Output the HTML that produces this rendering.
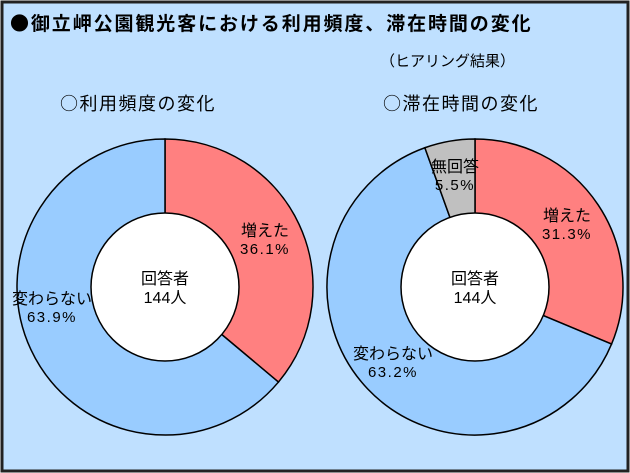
<!DOCTYPE html>
<html><head><meta charset="utf-8"><style>
body{margin:0;width:630px;height:473px;overflow:hidden;background:#fff}
svg{display:block}
text{font-family:"Liberation Sans","Noto Sans CJK JP",sans-serif}
.cjk{font-family:"Noto Sans CJK JP",sans-serif}
</style></head><body>
<svg width="630" height="473" viewBox="0 0 630 473">
<rect x="2" y="2" width="626" height="469" fill="#bfe0ff" stroke="#222" stroke-width="3"/>
<text x="10" y="30" font-size="19" font-weight="bold" fill="#000" letter-spacing="1.9" class="cjk">●御立岬公園観光客における利用頻度、滞在時間の変化</text>
<text x="380" y="66" font-size="15" fill="#000" class="cjk">（ヒアリング結果）</text>
<text x="60" y="110" font-size="18" fill="#000" letter-spacing="1.5" class="cjk">○利用頻度の変化</text>
<text x="383" y="110" font-size="18" fill="#000" letter-spacing="1.5" class="cjk">○滞在時間の変化</text>
<g id="charts"></g>
</svg>
<script>
const leftCategories=["増えた","変わらない"];
const leftValues=[36.1,63.9];
const rightCategories=["増えた","変わらない","無回答"];
const rightValues=[31.3,63.2,5.5];
const colorsMap={"増えた":"#ff8080","変わらない":"#99ccff","無回答":"#c0c0c0"};
const NS="http://www.w3.org/2000/svg";
const g=document.getElementById('charts');
function mk(t,a){const e=document.createElementNS(NS,t);for(const k in a)e.setAttribute(k,a[k]);return e;}
function donut(cx,cy,R,r,cats,vals,key,labelPos){
  const tot=vals.reduce((a,b)=>a+b,0);
  let a0=0;
  cats.forEach((c,i)=>{
    const a1=a0+vals[i]/tot*2*Math.PI;
    const p=(a)=>[cx+R*Math.sin(a),cy-R*Math.cos(a)];
    const [x0,y0]=p(a0),[x1,y1]=p(a1);
    const large=(a1-a0)>Math.PI?1:0;
    const path=mk('path',{d:`M${cx},${cy} L${x0},${y0} A${R},${R} 0 ${large} 1 ${x1},${y1} Z`,fill:colorsMap[c],stroke:'#000','stroke-width':1.5});
    
    
    g.appendChild(path);
    const lp=labelPos[i];
    const t1=mk('text',{x:lp[0],y:lp[1],'font-size':16,'text-anchor':'middle',fill:'#000'});
    t1.textContent=c;
    
    
    g.appendChild(t1);
    const t2=mk('text',{x:lp[0],y:lp[1]+18,'font-size':15,'text-anchor':'middle',fill:'#000','letter-spacing':'1.5'});
    t2.textContent=vals[i].toFixed(1)+'%';
    
    
    g.appendChild(t2);
    a0=a1;
  });
  const hole=mk('circle',{cx:cx,cy:cy,r:r,fill:'#fff',stroke:'#000','stroke-width':1.5});
  
  
  g.appendChild(hole);
  const c1=mk('text',{x:cx,y:cy-3,'font-size':16,'text-anchor':'middle'});
  c1.textContent='回答者';
  
  
  g.appendChild(c1);
  const c2=mk('text',{x:cx,y:cy+16,'font-size':16,'text-anchor':'middle'});
  c2.textContent='144人';
  
  
  g.appendChild(c2);
}
donut(165,287,148,74,leftCategories,leftValues,'left',[[265,236],[52,304]]);
donut(475,287,148,74,rightCategories,rightValues,'right',[[567,221],[393,359],[455,172]]);
</script>
</body></html>
